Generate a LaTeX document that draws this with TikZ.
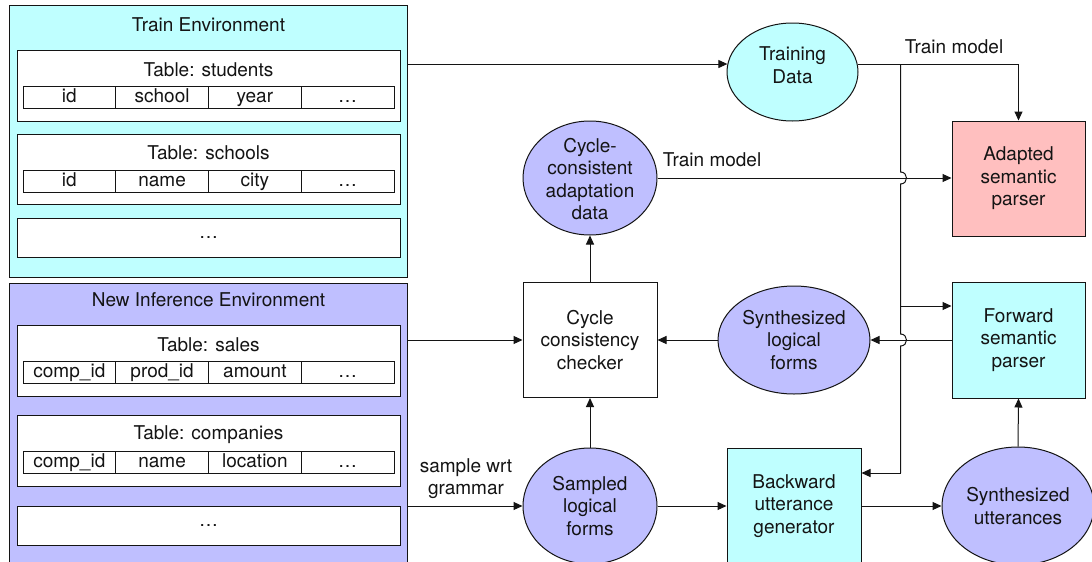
\documentclass[tikz,border=0pt]{standalone}
\usepackage{fontspec}
\setmainfont{TeX Gyre Heros}
\usetikzlibrary{arrows.meta,shapes.geometric,calc}
\definecolor{cyanfill}{RGB}{191,255,255}
\definecolor{lavfill}{RGB}{191,191,255}
\definecolor{pinkfill}{RGB}{255,191,191}
\definecolor{ink}{RGB}{20,20,20}
\tikzset{
  fnt/.style={font=\fontsize{19pt}{22.5pt}\selectfont, text=ink, inner sep=0pt},
  txt/.style={fnt, align=center},
  env/.style={draw=ink, line width=1pt, rectangle, inner sep=0pt, anchor=north west},
  tbox/.style={draw=ink, line width=1pt, fill=white, rectangle, inner sep=0pt, minimum width=383pt},
  cell/.style={fnt, draw=ink, line width=1pt, rectangle, minimum width=92.75pt, minimum height=22pt, text height=14pt, text depth=3pt},
  proc/.style={txt, draw=ink, line width=1pt, rectangle},
  oval/.style={draw=ink, line width=1pt, ellipse, inner sep=0pt},
  conn/.style={draw=ink, line width=1pt},
  arr/.style={conn, -{Triangle[length=9pt,width=8pt]}},
}
\begin{document}
\begin{tikzpicture}[x=1pt,y=-1pt]
\clip (0,0) rectangle (1092,562);
\fill[white] (0,0) rectangle (1092,562);

% ---------- Train environment ----------
\node[env, fill=cyanfill, minimum width=398pt, minimum height=272pt] (trainenv) at (9,5) {};
\node[txt] (trainenv-t) at (208.5,25) {Train Environment};

\node[tbox, minimum height=71pt] (tstud) at (208.5,85.5) {};
\node[txt] (tstud-t) at (208.5,70) {Table: students};
\foreach \c [count=\i] in {id,school,year,…}
  \node[cell] (tstud-\i) at ({23+92.75*(\i-0.5)},97) {\c};

\node[tbox, minimum height=70pt] (tsch) at (208.5,169) {};
\node[txt] (tsch-t) at (208.5,153) {Table: schools};
\foreach \c [count=\i] in {id,name,city,…}
  \node[cell] (tsch-\i) at ({23+92.75*(\i-0.5)},181) {\c};

\node[tbox, minimum height=39pt] (tdots) at (208.5,237.5) {};
\node[txt] (tdots-t) at (208.5,237.5) {…};

% ---------- New inference environment ----------
\node[env, fill=lavfill, minimum width=398pt, minimum height=320pt] (newenv) at (9,283) {};
\node[txt] (newenv-t) at (208.5,300) {New Inference Environment};

\node[tbox, minimum height=71pt] (tsal) at (208.5,360.5) {};
\node[txt] (tsal-t) at (208.5,345) {Table: sales};
\foreach \c [count=\i] in {comp\_id,prod\_id,amount,…}
  \node[cell] (tsal-\i) at ({23+92.75*(\i-0.5)},372) {\c};

\node[tbox, minimum height=71pt] (tcomp) at (208.5,450.5) {};
\node[txt] (tcomp-t) at (208.5,435) {Table: companies};
\foreach \c [count=\i] in {comp\_id,name,location,…}
  \node[cell] (tcomp-\i) at ({23+92.75*(\i-0.5)},462) {\c};

\node[tbox, minimum height=39pt] (ndots) at (208.5,525.5) {};
\node[txt] (ndots-t) at (208.5,525.5) {…};

% ---------- Process nodes ----------
\node[oval, fill=cyanfill, minimum width=131pt, minimum height=98pt] (td) at (792.5,72) {};
\node[txt] (td-t) at (792.5,65) {Training\\Data};

\node[oval, fill=lavfill, minimum width=134pt, minimum height=114pt] (cc) at (590,178) {};
\node[txt] (cc-t) at (590,179) {Cycle-\\consistent\\adaptation\\data};

\node[proc, fill=pinkfill, minimum width=133pt, minimum height=115pt] (adapt) at (1018.5,178.5) {Adapted\\semantic\\parser};

\node[proc, fill=white, minimum width=134pt, minimum height=115pt] (chk) at (590,340) {Cycle\\consistency\\checker};

\node[oval, fill=lavfill, minimum width=152pt, minimum height=108pt] (slf) at (794,340) {};
\node[txt] (slf-t) at (794,340) {Synthesized\\logical\\forms};

\node[proc, fill=cyanfill, minimum width=133pt, minimum height=116pt] (fwd) at (1018.5,340) {Forward\\semantic\\parser};

\node[oval, fill=lavfill, minimum width=134pt, minimum height=116pt] (samp) at (590,506) {};
\node[txt] (samp-t) at (590,506) {Sampled\\logical\\forms};

\node[proc, fill=cyanfill, minimum width=134pt, minimum height=116pt] (bwd) at (794,506) {Backward\\utterance\\generator};

\node[oval, fill=lavfill, minimum width=152pt, minimum height=118pt] (su) at (1018,506) {};
\node[txt] (su-t) at (1018,506) {Synthesized\\utterances};

% ---------- Labels ----------
\node[txt] (lbl-tm1) at (954,47) {Train model};
\node[txt] (lbl-tm2) at (712,160) {Train model};
\node[txt] (lbl-swg) at (466,478.5) {sample wrt\\grammar};

% ---------- Connectors ----------
\coordinate (xv) at (900.5,0);
\coordinate (j1) at (td.173 -| xv);
\coordinate (h1) at (j1 |- cc.east);
\coordinate (h2) at (j1 |- fwd.west);
\coordinate (j2) at (900.5,306);
\coordinate (j3) at (900.5,473);

\draw[arr] (trainenv.east |- td.173) -- (td.173);
\draw[arr] (td.7) -| (adapt.north);
\draw[conn] (j1) -- ($(h1)+(0,-6)$) .. controls ($(h1)+(8,-6)$) and ($(h1)+(8,6)$) .. ($(h1)+(0,6)$)
  -- ($(h2)+(0,-6)$) .. controls ($(h2)+(8,-6)$) and ($(h2)+(8,6)$) .. ($(h2)+(0,6)$) -- (j3);
\draw[arr] (j2) -- (fwd.west |- j2);
\draw[arr] (j3) -- (bwd.east |- j3);

\draw[arr] (cc.east) -- (adapt.west |- cc.east);
\draw[arr] (newenv.east |- chk.west) -- (chk.west);
\draw[arr] (slf.west) -- (chk.east);
\draw[arr] (fwd.west) -- (slf.east);
\draw[arr] (chk.north) -- (cc.south);
\draw[arr] (samp.north) -- (chk.south);
\draw[arr] (newenv.east |- samp.west) -- (samp.west);
\draw[arr] (samp.east) -- (bwd.west);
\draw[arr] (bwd.east) -- (su.west);
\draw[arr] (su.north) -- (fwd.south);
\end{tikzpicture}
\end{document}
